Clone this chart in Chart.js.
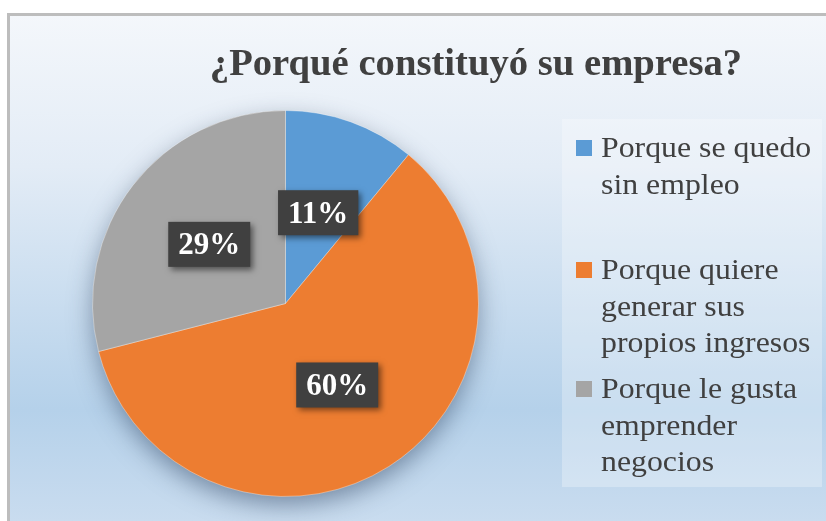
<!DOCTYPE html>
<html>
<head>
<meta charset="utf-8">
<script src="https://cdn.jsdelivr.net/npm/chart.js@4.4.1/dist/chart.umd.min.js"></script>
<style>
  html, body { margin: 0; padding: 0; background: #ffffff; }
  #wrap { width: 826px; height: 521px; position: relative; }
</style>
</head>
<body>
<div id="wrap"><canvas id="c" width="826" height="521"></canvas></div>
<script>
// ---- data ----
const chartTitle = '¿Porqué constituyó su empresa?';
const categories = ['Porque se quedo sin empleo', 'Porque quiere generar sus propios ingresos', 'Porque le gusta emprender negocios'];
const percentages = [11, 60, 29];
const sliceColors = ['#5b9bd5', '#ed7d31', '#a5a5a5'];

const SERIF = '"Liberation Serif", "Times New Roman", serif';

const backgroundPlugin = {
  id: 'bgFrame',
  beforeDraw(chart) {
    const ctx = chart.ctx;
    ctx.save();
    ctx.fillStyle = '#ffffff';
    ctx.fillRect(0, 0, chart.width, chart.height);
    const g = ctx.createLinearGradient(0, 14, 0, 521);
    g.addColorStop(0, '#f4f7fb');
    g.addColorStop(0.3, '#e3ecf6');
    g.addColorStop(0.78, '#b5d1ea');
    g.addColorStop(1, '#c9dcef');
    ctx.fillStyle = g;
    ctx.fillRect(8, 14, 830, 520);
    ctx.strokeStyle = '#bdbdbd';
    ctx.lineWidth = 3;
    ctx.strokeRect(8.5, 14.5, 830, 520);
    // title (slightly widened to match the reference typography)
    ctx.fillStyle = '#404040';
    ctx.font = 'bold 37px ' + SERIF;
    ctx.textAlign = 'center';
    ctx.textBaseline = 'alphabetic';
    ctx.translate(476, 75);
    ctx.scale(1.045, 1);
    ctx.fillText(chartTitle, 0, 0);
    ctx.setTransform(1, 0, 0, 1, 0, 0);
    // legend panel
    ctx.fillStyle = 'rgba(255,255,255,0.28)';
    ctx.fillRect(562, 119, 260, 368);
    ctx.restore();
  },
  beforeDatasetsDraw(chart) {
    const meta = chart.getDatasetMeta(0);
    const arc = meta.data[0];
    if (!arc) return;
    const ctx = chart.ctx;
    ctx.save();
    ctx.shadowColor = 'rgba(40,60,90,0.5)';
    ctx.shadowBlur = 24;
    ctx.shadowOffsetX = 0;
    ctx.shadowOffsetY = 9;
    ctx.fillStyle = '#a0a0a0';
    ctx.beginPath();
    ctx.arc(arc.x, arc.y, arc.outerRadius - 1, 0, Math.PI * 2);
    ctx.fill();
    ctx.restore();
  }
};

const labelsPlugin = {
  id: 'pctLabels',
  afterDatasetsDraw(chart) {
    const ctx = chart.ctx;
    const meta = chart.getDatasetMeta(0);
    const data = chart.data.datasets[0].data;
    ctx.save();
    ctx.font = 'bold 31px ' + SERIF;
    ctx.textAlign = 'center';
    ctx.textBaseline = 'middle';
    meta.data.forEach((arc, i) => {
      const p = arc.tooltipPosition();
      const txt = data[i] + '%';
      const w = ctx.measureText(txt).width + 20;
      const h = 45;
      ctx.save();
      ctx.shadowColor = 'rgba(0,0,0,0.5)';
      ctx.shadowBlur = 6;
      ctx.shadowOffsetX = 3;
      ctx.shadowOffsetY = 3;
      ctx.fillStyle = '#404040';
      ctx.fillRect(p.x - w / 2, p.y - h / 2, w, h);
      ctx.restore();
      ctx.fillStyle = '#ffffff';
      ctx.fillText(txt, p.x, p.y + 2);
    });
    ctx.restore();
  }
};

const legendPlugin = {
  id: 'customLegend',
  afterDraw(chart) {
    const ctx = chart.ctx;
    const labels = chart.data.labels;
    const colors = chart.data.datasets[0].backgroundColor;
    const firstBaselines = [157, 279, 398];
    const lineH = 36.5;
    const textX = 601, sx = 1.097, maxW = 215 / sx;
    ctx.save();
    ctx.font = '29px ' + SERIF;
    ctx.textAlign = 'left';
    ctx.textBaseline = 'alphabetic';
    labels.forEach((lab, i) => {
      const words = lab.split(' ');
      const lines = [];
      let cur = '';
      words.forEach(wd => {
        const t = cur ? cur + ' ' + wd : wd;
        if (ctx.measureText(t).width > maxW && cur) { lines.push(cur); cur = wd; }
        else cur = t;
      });
      if (cur) lines.push(cur);
      const by = firstBaselines[i];
      ctx.fillStyle = colors[i];
      ctx.fillRect(576, by - 17, 16, 16);
      ctx.fillStyle = '#404040';
      lines.forEach((ln, k) => {
        ctx.save();
        ctx.translate(textX, by + k * lineH);
        ctx.scale(sx, 1);
        ctx.fillText(ln, 0, 0);
        ctx.restore();
      });
    });
    ctx.restore();
  }
};

new Chart(document.getElementById('c'), {
  type: 'pie',
  data: {
    labels: categories,
    datasets: [{
      data: percentages,
      backgroundColor: sliceColors,
      borderColor: 'rgba(255,255,255,0.35)',
      borderWidth: 1
    }]
  },
  options: {
    responsive: false,
    animation: false,
    layout: { padding: { left: 92, top: 110, right: 347, bottom: 24 } },
    plugins: {
      legend: { display: false },
      title: { display: false },
      tooltip: { enabled: false }
    }
  },
  plugins: [backgroundPlugin, labelsPlugin, legendPlugin]
});
</script>
</body>
</html>
